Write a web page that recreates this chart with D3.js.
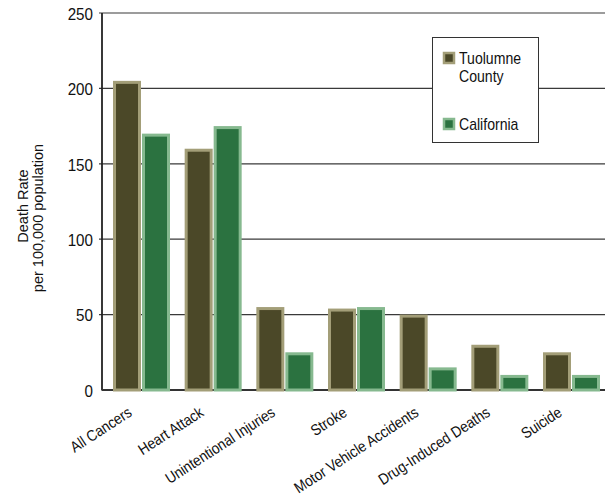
<!DOCTYPE html>
<html>
<head>
<meta charset="utf-8">
<script src="https://cdn.jsdelivr.net/npm/d3@7"></script>
<style>
  html, body { margin: 0; padding: 0; background: #fff; }
  svg { display: block; }
</style>
</head>
<body>
<svg id="chart" width="605" height="496"></svg>
<script>
const categories = ["All Cancers", "Heart Attack", "Unintentional Injuries", "Stroke",
  "Motor Vehicle Accidents", "Drug-Induced Deaths", "Suicide"];
const seriesNames = ["Tuolumne County", "California"];
const tuolumneValues = [205, 160, 55, 54, 50, 30, 25];
const californiaValues = [170, 175, 25, 55, 15, 10, 10];
const yTicks = [0, 50, 100, 150, 200, 250];

const fills = ["#4b4828", "#2b7240"];
const strokes = ["#a39e78", "#86b98f"];
const font = "'Liberation Sans', Arial, Helvetica, sans-serif";
const squeeze = 0.88;

const svg = d3.select("#chart");
const mLeft = 102, mRight = 605, mTop = 13, mBottom = 390;

const y = d3.scaleLinear().domain([0, 250]).range([mBottom, mTop]);
const x = d3.scaleBand().domain(categories).range([113, 600]).paddingInner(0.2047).paddingOuter(0);
const xs = d3.scaleBand().domain(seriesNames).range([0, x.bandwidth()]).paddingInner(1 / 29).paddingOuter(0);

// gridlines
svg.append("g").selectAll("line").data(yTicks.filter(d => d > 0)).join("line")
  .attr("x1", mLeft - 3).attr("x2", mRight)
  .attr("y1", d => y(d)).attr("y2", d => y(d))
  .attr("stroke", "#3a3a3a").attr("stroke-width", 1.2);

// y axis
const yAxis = d3.axisLeft(y).tickValues(yTicks).tickSize(0).tickPadding(0);
const ya = svg.append("g").attr("transform", `translate(${mLeft},0)`).call(yAxis);
ya.select(".domain").remove();
ya.selectAll("text")
  .attr("x", null)
  .attr("transform", `translate(-9,1) scale(0.92,1)`)
  .attr("font-family", font).attr("font-size", 16.5).attr("fill", "#111");

svg.append("line").attr("x1", mLeft).attr("x2", mLeft).attr("y1", mTop).attr("y2", mBottom + 0.5)
  .attr("stroke", "#222").attr("stroke-width", 1.8);
svg.append("line").attr("x1", mLeft).attr("x2", mRight).attr("y1", mBottom).attr("y2", mBottom)
  .attr("stroke", "#333").attr("stroke-width", 1.8);

// bars
const data = categories.map((c, i) => ({ cat: c, vals: [tuolumneValues[i], californiaValues[i]] }));
const groups = svg.append("g").selectAll("g").data(data).join("g")
  .attr("transform", d => `translate(${x(d.cat)},0)`);
groups.selectAll("rect").data(d => d.vals.map((v, k) => ({ v, k, s: seriesNames[k] }))).join("rect")
  .attr("x", d => xs(d.s) + 1.5)
  .attr("width", xs.bandwidth() - 3)
  .attr("y", d => y(d.v) + 1.5)
  .attr("height", d => mBottom - y(d.v) - 1.5)
  .attr("fill", d => fills[d.k])
  .attr("stroke", d => strokes[d.k])
  .attr("stroke-width", 3);

// x labels
const xl = svg.append("g");
xl.selectAll("text").data(categories).join("text")
  .attr("transform", d => `translate(${x(d) + x.bandwidth() / 2 - 8.5},415) rotate(-33) scale(${squeeze},1)`)
  .attr("text-anchor", "end")
  .attr("font-family", font).attr("font-size", 15.5).attr("fill", "#111")
  .text(d => d);

// y title
const yt = svg.append("g");
yt.append("text").attr("transform", "translate(28,206) rotate(-90)")
  .attr("text-anchor", "middle").attr("font-family", font).attr("font-size", 14.5).attr("fill", "#111")
  .text("Death Rate");
yt.append("text").attr("transform", "translate(43,218) rotate(-90)")
  .attr("text-anchor", "middle").attr("font-family", font).attr("font-size", 14.5).attr("fill", "#111")
  .text("per 100,000 population");

// legend
const lg = svg.append("g");
lg.append("rect").attr("x", 432.5).attr("y", 37.5).attr("width", 106).attr("height", 105)
  .attr("fill", "#fff").attr("stroke", "#333").attr("stroke-width", 1);
const legendRows = [
  { lines: ["Tuolumne", "County"], sy: 52 },
  { lines: ["California"], sy: 118 }
];
legendRows.forEach((r, k) => {
  lg.append("rect").attr("x", 444).attr("y", r.sy + 1).attr("width", 10).attr("height", 10)
    .attr("fill", fills[k]).attr("stroke", strokes[k]).attr("stroke-width", 2.5);
  r.lines.forEach((t, j) => {
    lg.append("text").attr("transform", `translate(459,${r.sy + 11.5 + j * 18}) scale(${squeeze},1)`)
      .attr("font-family", font).attr("font-size", 16).attr("fill", "#111").text(t);
  });
});
</script>
</body>
</html>
